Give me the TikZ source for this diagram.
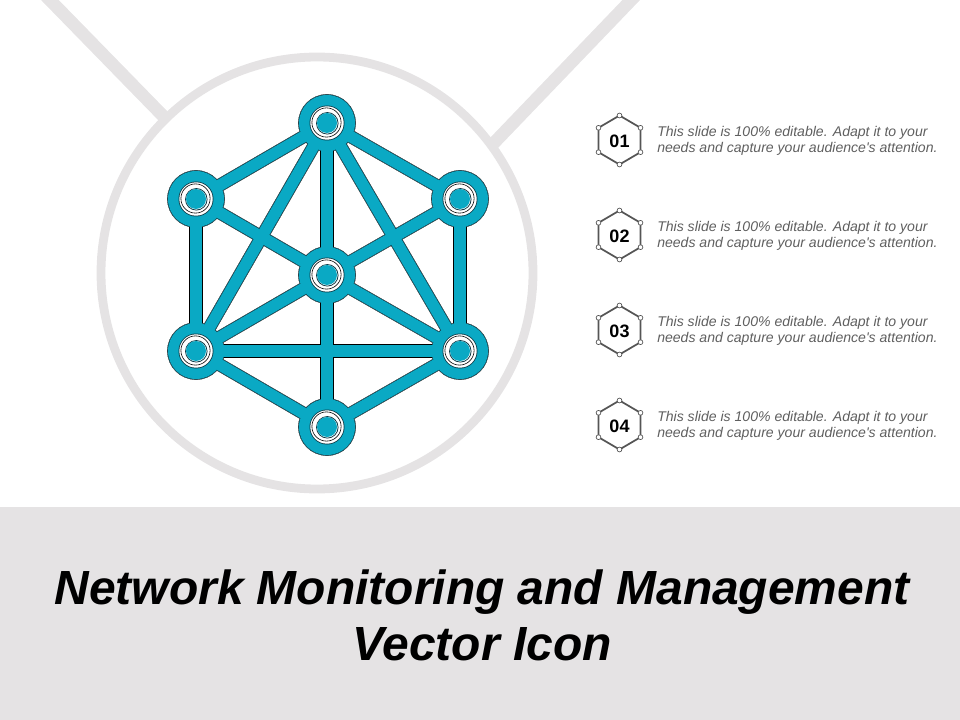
\documentclass[tikz,border=0pt]{standalone}
\usepackage{fontspec}
\setmainfont{Liberation Sans}
\definecolor{band}{HTML}{E5E3E4}
\definecolor{teal}{HTML}{0AA9C4}
\definecolor{edge}{HTML}{0B3A46}
\definecolor{hexline}{HTML}{555555}
\definecolor{bodytext}{HTML}{5F5F5F}
\newcommand{\netshape}[3]{%
  \begin{scope}[shift={(#1,#2)}]
    \foreach \a/\b in {t/ul,t/ur,ul/ll,ur/lr,ll/b,lr/b,c/ul,c/ur,c/ll,c/lr,c/t,c/b,t/ll,t/lr,ll/lr}
      \draw[line width=#3*0.75pt+11.5*0.75pt,color=\netcol] (\a) -- (\b);
    \foreach \n in {t,ul,ur,c,ll,lr,b}
      \fill[color=\netcol] (\n) circle[radius=28+#3/2];
  \end{scope}}
\tikzset{
  hexdot/.style={circle,draw=hexline,fill=white,line width=0.5pt,minimum size=3.6pt,inner sep=0pt},
  hexnum/.style={font=\bfseries\fontsize{13.5}{15}\selectfont,text=black},
  blurb/.style={anchor=west,align=left,text=bodytext,inner sep=0pt,font=\itshape\fontsize{10.55}{12}\selectfont},
  titletext/.style={align=center,font=\bfseries\itshape\fontsize{35.95}{42}\selectfont,text=black},
  hub/.style={coordinate}
}
\begin{document}
\begin{tikzpicture}[x=0.75pt,y=-0.75pt]
\useasboundingbox (0,0) rectangle (960,720);
% grey backdrop
\fill[band] (0,507) rectangle (960,720);
\draw[band,line width=9.5pt] (45,-5) -- (165,118);
\draw[band,line width=9.5pt] (636,-5) -- (492,145);
\fill[white] (317,273) circle[radius=216];
\draw[band,line width=6.6pt] (317,273) circle[radius=216];
% network hubs
\coordinate[hub] (t) at (327,123);
\coordinate[hub] (ul) at (196,199);
\coordinate[hub] (ur) at (460,199);
\coordinate[hub] (c) at (327,275);
\coordinate[hub] (ll) at (196,351);
\coordinate[hub] (lr) at (460,351);
\coordinate[hub] (b) at (327,427);
% layered silhouette: lower-right thin line, white gap, dark rim, teal body
\def\netcol{black}\netshape{1.9}{1.9}{1.6}
\def\netcol{white}\netshape{1.4}{1.4}{1}
\def\netcol{edge}\netshape{-0.3}{-0.3}{1.2}
\def\netcol{teal}\netshape{0}{0}{0}
% hub rings
\foreach \n in {t,ul,ur,c,ll,lr,b}{
  \fill[edge] (\n) circle[radius=17.5];
  \fill[white] (\n) circle[radius=16.7];
  \draw[black,line width=0.45pt] ([shift={(-0.5,-0.5)}]\n) circle[radius=14.6];
  \draw[edge,line width=0.6pt] ([shift={(0.3,0.3)}]\n) circle[radius=10.8];
  \fill[teal] (\n) circle[radius=10];
}
% numbered hexagons
\foreach \k/\lab/\y in {1/01/140,2/02/235,3/03/330,4/04/425}{
  \begin{scope}[shift={(619.5,\y)}]
    \coordinate (h\k a) at (0,-24.5);
    \coordinate (h\k b) at (21,-12.2);
    \coordinate (h\k c) at (21,12.2);
    \coordinate (h\k d) at (0,24.5);
    \coordinate (h\k e) at (-21,12.2);
    \coordinate (h\k f) at (-21,-12.2);
    \draw[hexline,line width=1.3pt] (h\k a) -- (h\k b) -- (h\k c) -- (h\k d) -- (h\k e) -- (h\k f) -- cycle;
    \foreach \v in {a,b,c,d,e,f} \node[hexdot] at (h\k\v) {};
    \node[hexnum] (num\k) at (0,1) {\lab};
  \end{scope}
  \node[blurb] (txt\k) at (657,\y+0.8) {This slide is 100\% editable. Adapt it to your\\needs and capture your audience\textquotesingle s attention.};
}
\node[titletext] (title) at (482,615.5) {Network Monitoring and Management\\Vector Icon};
\end{tikzpicture}
\end{document}
